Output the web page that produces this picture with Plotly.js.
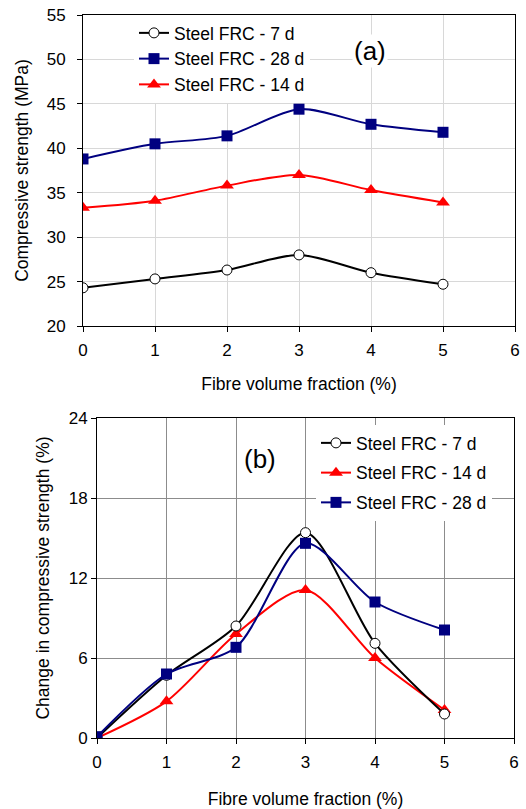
<!DOCTYPE html>
<html>
<head>
<meta charset="utf-8">
<script src="https://cdn.plot.ly/plotly-3.0.1.min.js"></script>
<style>html,body{margin:0;padding:0;background:#fff;}#chart{width:526px;height:809px;}</style>
</head>
<body>
<div id="chart"></div>
<script>
// Shared x values: fibre volume fraction (%)
const fibre = [0, 1, 2, 3, 4, 5];

// (a) Compressive strength (MPa)
const strength7d  = [24.3, 25.3, 26.3, 28.0, 26.0, 24.7];
const strength28d = [38.8, 40.5, 41.4, 44.4, 42.7, 41.8];
const strength14d = [33.3, 34.1, 35.8, 37.0, 35.3, 33.9];

// (b) Change in compressive strength (%)
const change7d  = [0, 4.7, 8.4, 15.4, 7.1, 1.8];
const change14d = [0, 2.75, 7.8, 11.1, 6.0, 2.1];
const change28d = [0.1, 4.8, 6.8, 14.6, 10.2, 8.1];

const xTicks = [0, 1, 2, 3, 4, 5, 6];
const yTicksA = [20, 25, 30, 35, 40, 45, 50, 55];
const yTicksB = [0, 6, 12, 18, 24];

const FONT = 'Liberation Sans, Arial, sans-serif';
const spline = {shape: 'spline', smoothing: 0.8, width: 2};

const traces = [
  {x: fibre, y: strength7d, name: 'Steel FRC - 7 d', xaxis: 'x', yaxis: 'y', legend: 'legend', mode: 'lines+markers',
   line: Object.assign({color: '#000000'}, spline), marker: {symbol: 'circle', size: 10, color: '#ffffff', line: {color: '#000000', width: 1}}},
  {x: fibre, y: strength28d, name: 'Steel FRC - 28 d', xaxis: 'x', yaxis: 'y', legend: 'legend', mode: 'lines+markers',
   line: Object.assign({color: '#000080'}, spline), marker: {symbol: 'square', size: 11, color: '#000080'}},
  {x: fibre, y: strength14d, name: 'Steel FRC - 14 d', xaxis: 'x', yaxis: 'y', legend: 'legend', mode: 'lines+markers',
   line: Object.assign({color: '#ff0000'}, spline), marker: {symbol: 'triangle-up', size: 12, color: '#ff0000'}},

  {x: fibre, y: change14d, name: 'Steel FRC - 14 d', xaxis: 'x2', yaxis: 'y2', legend: 'legend2', legendgroup: 'b14', legendrank: 2, mode: 'lines+markers',
   line: Object.assign({color: '#ff0000'}, spline), marker: {symbol: 'triangle-up', size: 12, color: '#ff0000'}},
  {x: fibre, y: change7d, name: 'Steel FRC - 7 d', xaxis: 'x2', yaxis: 'y2', legend: 'legend2', legendgroup: 'b7', legendrank: 1, mode: 'lines+markers',
   line: Object.assign({color: '#000000'}, spline), marker: {symbol: 'circle', size: 10, color: '#ffffff', line: {color: '#000000', width: 1}}},
  {x: fibre, y: change28d, name: 'Steel FRC - 28 d', xaxis: 'x2', yaxis: 'y2', legend: 'legend2', legendgroup: 'b28', legendrank: 3, mode: 'lines+markers',
   line: Object.assign({color: '#000080'}, spline), marker: {symbol: 'square', size: 11, color: '#000080'}}
];

const axBase = {
  showline: true, linecolor: '#000', linewidth: 1, mirror: true,
  ticks: 'outside', ticklen: 5, tickcolor: '#000', tickwidth: 1,
  zeroline: false, showgrid: true,
  tickfont: {family: FONT, size: 17, color: '#000'}
};

const layout = {
  width: 526, height: 809,
  margin: {l: 0, r: 0, t: 0, b: 0},
  paper_bgcolor: '#fff', plot_bgcolor: '#fff',
  font: {family: FONT, color: '#000'},
  showlegend: true,
  xaxis: Object.assign({}, axBase, {
    domain: [83/526, 515/526], anchor: 'y', range: [0, 6], tickvals: xTicks, gridcolor: '#d8d8d8',
    ticklabelstandoff: 4,
    title: {text: 'Fibre volume fraction (%)', font: {family: FONT, size: 17.5}, standoff: 18}
  }),
  yaxis: Object.assign({}, axBase, {
    domain: [1 - 326/809, 1 - 15/809], anchor: 'x', range: [20, 55], tickvals: yTicksA, gridcolor: '#d8d8d8',
    ticklabelstandoff: 8,
    title: {text: 'Compressive strength (MPa)', font: {family: FONT, size: 17.5}, standoff: 13}
  }),
  xaxis2: Object.assign({}, axBase, {
    domain: [97/526, 514/526], anchor: 'y2', range: [0, 6], tickvals: xTicks, gridcolor: '#8c8c8c',
    ticklabelstandoff: 4,
    title: {text: 'Fibre volume fraction (%)', font: {family: FONT, size: 17.5}, standoff: 22}
  }),
  yaxis2: Object.assign({}, axBase, {
    domain: [1 - 738/809, 1 - 418/809], anchor: 'x2', range: [0, 24], tickvals: yTicksB, gridcolor: '#8c8c8c',
    ticklabelstandoff: 0,
    title: {text: 'Change in compressive strength (%)', font: {family: FONT, size: 17.5}, standoff: 14}
  }),
  legend: {
    x: 134/526, y: 1 - 15/809, xanchor: 'left', yanchor: 'top',
    bgcolor: '#fff', borderwidth: 0, traceorder: 'normal',
    font: {family: FONT, size: 17.5, color: '#000'}, itemwidth: 30
  },
  legend2: {
    x: 316/526, y: 1 - 425/809, xanchor: 'left', yanchor: 'top',
    bgcolor: '#fff', borderwidth: 0, traceorder: 'grouped', tracegroupgap: 4,
    font: {family: FONT, size: 17.5, color: '#000'}, itemwidth: 30
  },
  annotations: [
    {xref: 'x', yref: 'y', x: 3.98, y: 51.0, text: '(a)', showarrow: false, bgcolor: '#fff',
     font: {family: FONT, size: 26, color: '#000'}},
    {xref: 'x2', yref: 'y2', x: 2.35, y: 20.9, text: '(b)', showarrow: false, bgcolor: '#fff',
     font: {family: FONT, size: 26, color: '#000'}}
  ]
};

Plotly.newPlot('chart', traces, layout, {displayModeBar: false, staticPlot: true});
</script>
</body>
</html>
